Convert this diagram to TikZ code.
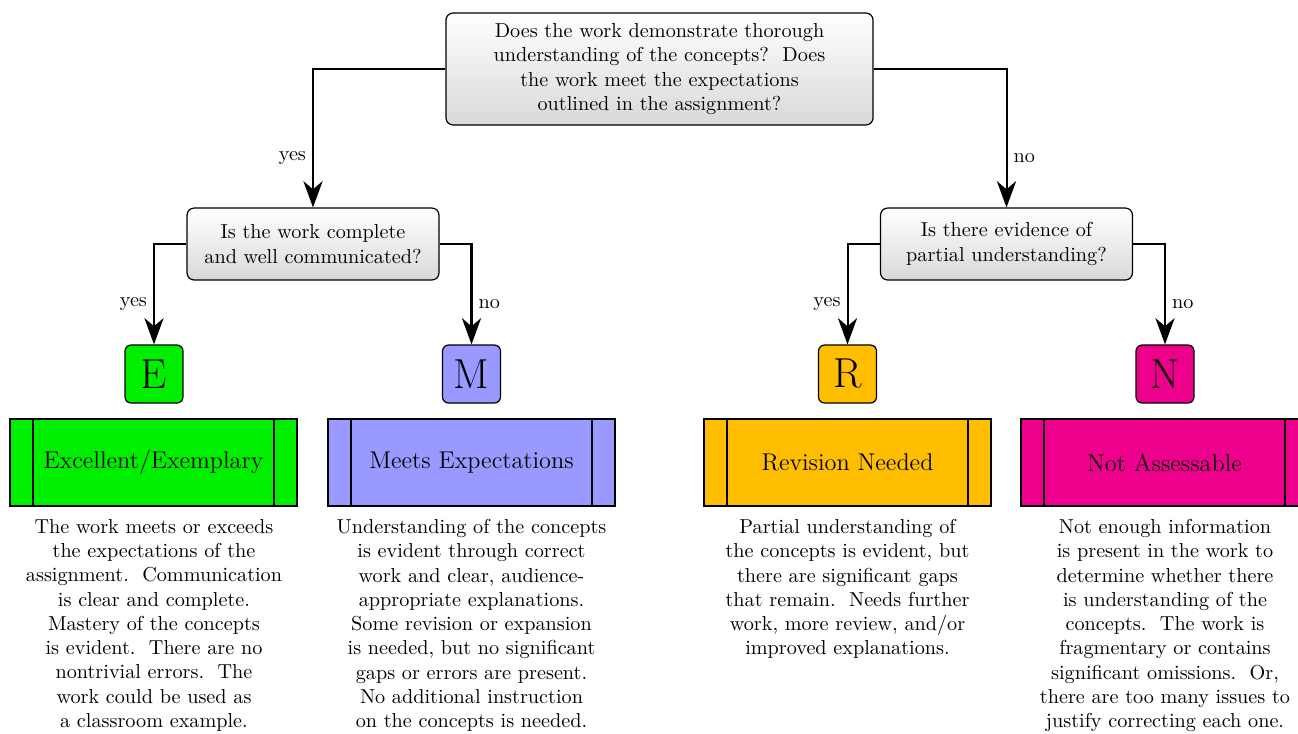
\documentclass[tikz,border=0pt]{standalone}
\usetikzlibrary{arrows.meta}
\definecolor{cE}{RGB}{0,238,0}
\definecolor{cM}{RGB}{153,153,255}
\definecolor{cR}{RGB}{255,191,0}
\definecolor{cN}{RGB}{236,0,140}
\tikzset{
  question/.style={draw, rounded corners=3.5pt, top color=white, bottom color=black!15, line width=0.6pt, align=center, inner sep=0pt},
  letterbox/.style={draw, rounded corners=3pt, line width=0.6pt, minimum width=28.7pt, minimum height=28.7pt, inner sep=0pt, font=\huge},
  procbox/.style={draw, line width=0.8pt, minimum width=142.1pt, minimum height=43.1pt, inner sep=0pt, font=\large},
  procline/.style={line width=0.8pt},
  desc/.style={align=center, inner sep=0pt, anchor=north},
  arr/.style={line width=1pt, -{Stealth[length=13pt,width=9.5pt,inset=4pt]}},
  lbl/.style={font=\normalsize, inner sep=3pt}
}
\begin{document}
\begin{tikzpicture}[x=0.495pt, y=-0.495pt]
\useasboundingbox (0,0) rectangle (1298,733);
\node[question, minimum width=211.4pt, minimum height=55.4pt] (top) at (659.5,69)
  {Does the work demonstrate thorough\\understanding of the concepts?\ \ Does\\the work meet the expectations\\outlined in the assignment?};
\node[question, minimum width=124.7pt, minimum height=35.6pt] (q2) at (313,244)
  {Is the work complete\\and well communicated?};
\node[question, minimum width=124.7pt, minimum height=35.6pt] (q3) at (1006.5,244)
  {Is there evidence of\\partial understanding?};
\node[letterbox, fill=cE] (e) at (154,374) {E};
\node[letterbox, fill=cM] (m) at (471.5,374) {M};
\node[letterbox, fill=cR] (r) at (847.5,374) {R};
\node[letterbox, fill=cN] (n) at (1165,374) {N};
\draw[arr] (top.west) -| node[lbl, pos=0.82, left] {yes} (q2.north);
\draw[arr] (top.east) -| node[lbl, pos=0.82, right] {no} (q3.north);
\draw[arr] (q2.west) -| node[lbl, pos=0.8, left] {yes} (e.north);
\draw[arr] (q2.east) -| node[lbl, pos=0.8, right] {no} (m.north);
\draw[arr] (q3.west) -| node[lbl, pos=0.8, left] {yes} (r.north);
\draw[arr] (q3.east) -| node[lbl, pos=0.8, right] {no} (n.north);
\node[procbox, fill=cE] (pe) at (153.5,462.5) {Excellent/Exemplary};
\node[procbox, fill=cM] (pm) at (471.5,462.5) {Meets Expectations};
\node[procbox, fill=cR] (pr) at (847.5,462.5) {Revision Needed};
\node[procbox, fill=cN] (pn) at (1164.5,462.5) {Not Assessable};
\foreach \p in {pe,pm,pr,pn}{
  \draw[procline] ([xshift=11.9pt]\p.north west) -- ([xshift=11.9pt]\p.south west);
  \draw[procline] ([xshift=-11.9pt]\p.north east) -- ([xshift=-11.9pt]\p.south east);
}
\node[desc] (de) at (154,519) {The work meets or exceeds\\the expectations of the\\assignment.\ \ Communication\\is clear and complete.\\Mastery of the concepts\\is evident.\ \ There are no\\nontrivial errors.\ \ The\\work could be used as\\a classroom example.};
\node[desc] (dm) at (471.5,519) {Understanding of the concepts\\is evident through correct\\work and clear, audience-\\appropriate explanations.\\Some revision or expansion\\is needed, but no significant\\gaps or errors are present.\\No additional instruction\\on the concepts is needed.};
\node[desc] (dr) at (847.5,519) {Partial understanding of\\the concepts is evident, but\\there are significant gaps\\that remain.\ \ Needs further\\work, more review, and/or\\improved explanations.};
\node[desc] (dn) at (1165,519) {Not enough information\\is present in the work to\\determine whether there\\is understanding of the\\concepts.\ \ The work is\\fragmentary or contains\\significant omissions.\ \ Or,\\there are too many issues to\\justify correcting each one.};
\end{tikzpicture}
\end{document}
